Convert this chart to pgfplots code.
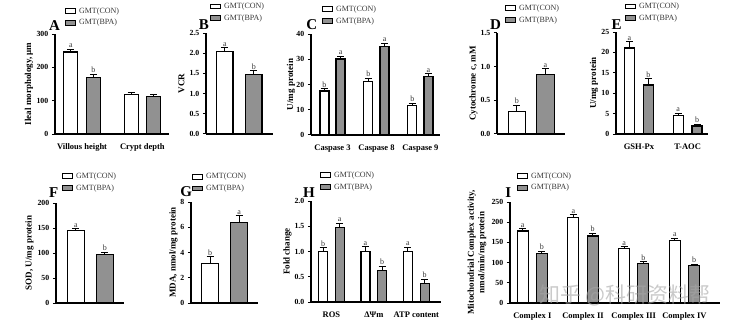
\documentclass[border=0pt]{standalone}
\usepackage{pgfplots}
\pgfplotsset{compat=1.18}
\usepackage{fontspec}
\setmainfont{Liberation Serif}
\newfontfamily\cjk{Noto Sans CJK SC}
\definecolor{bpagrey}{RGB}{145,145,145}
\definecolor{txtgrey}{RGB}{55,55,55}
\pgfplotsset{
  panel/.style={
    scale only axis, clip=false,
    axis lines*=left,
    axis line style={line width=1.2pt, -},
    ymin=0,
    tick align=outside,
    major tick length=3.2pt,
    ytick style={line width=1pt, black},
    xtick style={draw=none},
    x tick label style={font=\bfseries\fontsize{8.5}{9}\selectfont, yshift=-3pt},
    y tick label style={font=\bfseries\fontsize{7.8}{8}\selectfont},
    /pgf/number format/assume math mode=true,
    legend style={draw=none, fill=none, inner sep=0pt, outer sep=0pt,
      font=\fontsize{8}{8}\selectfont, text=txtgrey,
      nodes={inner sep=0.6pt, text height=5.6pt, text depth=1.6pt},
      row sep=3.4pt, cells={anchor=west},
      /tikz/every odd column/.append style={column sep=2.5pt},
      at={(axis description cs:0,0)}, anchor=west},
  },
  ylab/.style={every axis y label/.style={at={(axis description cs:0,0.5)}, xshift=#1, rotate=90, anchor=center, font=\bfseries\fontsize{9}{10.5}\selectfont, align=center}},
  legpos/.style 2 args={legend style={xshift=#1, yshift=#2}},
  dec1/.style={yticklabel style={/pgf/number format/.cd, fixed, fixed zerofill, precision=1}},
  con/.style={ybar, bar shift=0pt, fill=white, draw=black, line width=1.2pt, forget plot,
    error bars/.cd, y dir=plus, y explicit, error bar style={line width=1pt, black},
    error mark options={rotate=90, mark size=3.5pt, line width=1pt, black}},
  bpa/.style={ybar, bar shift=0pt, fill=bpagrey, draw=black, line width=1.2pt, forget plot,
    error bars/.cd, y dir=plus, y explicit, error bar style={line width=1pt, black},
    error mark options={rotate=90, mark size=3.5pt, line width=1pt, black}},
  lets/.style={draw=none, mark=none, forget plot, point meta=explicit symbolic, nodes near coords,
    nodes near coords style={font=\fontsize{8}{8}\selectfont, text=txtgrey, anchor=south, inner sep=1.2pt}},
  conleg/.style={legend image code/.code={\draw[black, fill=white, line width=1pt] (0pt,-2.4pt) rectangle (10pt,2.4pt);}},
  bpaleg/.style={legend image code/.code={\draw[black, fill=bpagrey, line width=1pt] (0pt,-2.4pt) rectangle (10pt,2.4pt);}},
}
\newcommand{\legs}{\addlegendimage{conleg}\addlegendentry{GMT(CON)}\addlegendimage{bpaleg}\addlegendentry{GMT(BPA)}}
\begin{document}
\begin{tikzpicture}[x=1pt,y=1pt]
\path[use as bounding box] (0,0) rectangle (734,327);
% ---------------- A
\begin{axis}[panel, at={(55pt,193pt)}, anchor=south west, width=114pt, height=100pt,
  xmin=-0.449, xmax=1.441, ymax=300, ytick={0,100,200,300},
  xtick={0,1}, xticklabels={Villous height, Crypt depth}, bar width=14pt,
  ylabel={Ileal morphology, μm}, ylab=-26pt, legpos={10pt}{116.9pt}]
\legs
\addplot[con] table[x=x,y=y,y error=e] {x y e
-0.187 246 8
0.813 118 6
};
\addplot[bpa] table[x=x,y=y,y error=e] {x y e
0.187 169 10
1.187 113 6
};
\addplot[lets] table[meta=l] {x y l
-0.187 254 a
0.187 179 b
};
\end{axis}
% ---------------- B
\begin{axis}[panel, dec1, at={(206pt,193pt)}, anchor=south west, width=67pt, height=101pt,
  xmin=-0.648, xmax=1.662, ymax=2.5, ytick={0,0.5,1,1.5,2,2.5},
  xtick=\empty, bar width=16.5pt,
  ylabel={VCR}, ylab=-24.5pt, legpos={4pt}{121.5pt}]
\legs
\addplot[con] table[x=x,y=y,y error=e] {x y e
0 2.05 0.09
};
\addplot[bpa] table[x=x,y=y,y error=e] {x y e
1 1.47 0.09
};
\addplot[lets] table[meta=l] {x y l
0 2.14 a
1 1.56 b
};
\end{axis}
% ---------------- C
\begin{axis}[panel, at={(311pt,192pt)}, anchor=south west, width=129pt, height=101pt,
  xmin=-0.489, xmax=2.446, ymax=40, ytick={0,10,20,30,40},
  xtick={0,1,2}, xticklabels={Caspase 3, Caspase 8, Caspase 9}, bar width=9pt,
  ylabel={U/mg protein}, ylab=-20pt, legpos={11pt}{119.7pt}]
\legs
\addplot[con] table[x=x,y=y,y error=e] {x y e
-0.184 17.4 0.9
0.816 21.1 1.3
1.816 11.7 0.9
};
\addplot[bpa] table[x=x,y=y,y error=e] {x y e
0.184 30.1 1.0
1.184 35.2 1.2
2.184 23.1 1.1
};
\addplot[lets] table[meta=l] {x y l
-0.184 18.3 b
0.816 22.4 b
1.816 12.6 b
0.184 31.1 a
1.184 36.4 a
2.184 24.2 a
};
\end{axis}
% ---------------- D
\begin{axis}[panel, dec1, at={(497pt,193pt)}, anchor=south west, width=68pt, height=101pt,
  xmin=-0.690, xmax=1.679, ymax=1.5, ytick={0,0.5,1,1.5},
  xtick=\empty, bar width=17.3pt,
  ylabel={Cytochrome c, mM}, ylab=-23.5pt, legpos={8pt}{119.8pt}]
\legs
\addplot[con] table[x=x,y=y,y error=e] {x y e
0 0.34 0.09
};
\addplot[bpa] table[x=x,y=y,y error=e] {x y e
1 0.88 0.09
};
\addplot[lets] table[meta=l] {x y l
0 0.43 b
1 0.97 a
};
\end{axis}
% ---------------- E
\begin{axis}[panel, at={(616pt,193pt)}, anchor=south west, width=92pt, height=102pt,
  xmin=-0.473, xmax=1.42, ymax=25, ytick={0,5,10,15,20,25},
  xtick={0,1}, xticklabels={GSH-Px, T-AOC}, bar width=10pt,
  ylabel={U/mg protein}, ylab=-22pt, legpos={9pt}{121.5pt}]
\legs
\addplot[con] table[x=x,y=y,y error=e] {x y e
-0.195 21.1 1.5
0.805 4.6 0.5
};
\addplot[bpa] table[x=x,y=y,y error=e] {x y e
0.195 12.0 1.6
1.195 1.95 0.5
};
\addplot[lets] table[meta=l] {x y l
-0.195 22.6 a
0.805 5.1 a
0.195 13.6 b
1.195 2.45 b
};
\end{axis}
% ---------------- F
\begin{axis}[panel, at={(56pt,24pt)}, anchor=south west, width=68pt, height=100pt,
  xmin=-0.683, xmax=1.662, ymax=200, ytick={0,50,100,150,200},
  xtick=\empty, bar width=17pt,
  ylabel={SOD, U/mg protein}, ylab=-26.5pt, legpos={6pt}{120.8pt}]
\legs
\addplot[con] table[x=x,y=y,y error=e] {x y e
0 145 4
};
\addplot[bpa] table[x=x,y=y,y error=e] {x y e
1 97.5 4
};
\addplot[lets] table[meta=l] {x y l
0 149 a
1 101.5 b
};
\end{axis}
% ---------------- G
\begin{axis}[panel, at={(191pt,24pt)}, anchor=south west, width=67pt, height=101pt,
  xmin=-0.662, xmax=1.648, ymax=8, ytick={0,2,4,6,8},
  xtick=\empty, bar width=17pt,
  ylabel={MDA, nmol/mg protein}, ylab=-17.5pt, legpos={1pt}{120.5pt}]
\legs
\addplot[con] table[x=x,y=y,y error=e] {x y e
0 3.1 0.55
};
\addplot[bpa] table[x=x,y=y,y error=e] {x y e
1 6.35 0.55
};
\addplot[lets] table[meta=l] {x y l
0 3.65 b
1 6.9 a
};
\end{axis}
% ---------------- H
\begin{axis}[panel, dec1, at={(311pt,25pt)}, anchor=south west, width=130pt, height=101pt,
  xmin=-0.48, xmax=2.582, ymax=2, ytick={0,0.5,1,1.5,2},
  xtick={0,1,2}, xticklabels={ROS, ΔΨm, ATP content}, bar width=9pt,
  ylabel={Fold change}, ylab=-23.5pt, legpos={9pt}{120.8pt}]
\legs
\addplot[con] table[x=x,y=y,y error=e] {x y e
-0.196 1.0 0.07
0.804 1.0 0.09
1.804 1.0 0.08
};
\addplot[bpa] table[x=x,y=y,y error=e] {x y e
0.196 1.48 0.08
1.196 0.63 0.08
2.196 0.37 0.085
};
\addplot[lets] table[meta=l] {x y l
-0.196 1.07 b
0.804 1.09 a
1.804 1.08 a
0.196 1.56 a
1.196 0.71 b
2.196 0.455 b
};
\end{axis}
% ---------------- I
\begin{axis}[panel, at={(510pt,24pt)}, anchor=south west, width=210pt, height=101pt,
  xmin=-0.44, xmax=3.702, ymax=250, ytick={0,50,100,150,200,250},
  xtick={0,1,2,3}, xticklabels={Complex I, Complex II, Complex III, Complex IV}, bar width=11pt,
  ylabel={Mitochondrial Complex activity,\\nmol/min/mg protein}, ylab=-33pt, legpos={7pt}{121pt}]
\legs
\addplot[con] table[x=x,y=y,y error=e] {x y e
-0.19 178 6
0.81 212 6
1.81 134 5
2.81 155 5
};
\addplot[bpa] table[x=x,y=y,y error=e] {x y e
0.19 122 6
1.19 166 7
2.19 97 5
3.19 92 4
};
\addplot[lets] table[meta=l] {x y l
-0.19 184 a
0.81 218 a
1.81 139 a
2.81 160 a
0.19 128 b
1.19 173 b
2.19 102 b
3.19 96 b
};
\end{axis}
% panel letters
\begin{scope}[every node/.style={font=\bfseries\fontsize{15}{15}\selectfont, inner sep=0pt}]
\node at (54.5,301.7) {A};
\node at (204,302) {B};
\node at (311.7,302) {C};
\node at (495.5,302.5) {D};
\node at (616.7,302.5) {E};
\node at (53.8,134.2) {F};
\node at (186.2,135.5) {G};
\node at (309,134.3) {H};
\node at (508.3,134.7) {I};
\end{scope}
% watermark
\node[font=\cjk\fontsize{21}{21}\selectfont, text=gray!70, opacity=0.6, inner sep=0pt] at (625,32) {知乎 @科研资料帮};
\end{tikzpicture}
\end{document}
